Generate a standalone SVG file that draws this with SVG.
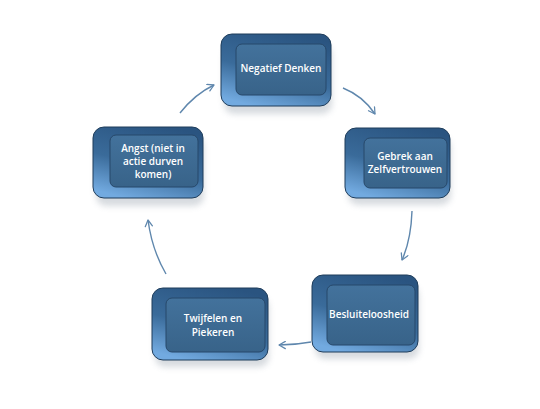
<svg xmlns="http://www.w3.org/2000/svg" width="540" height="409" viewBox="0 0 540 409">
<defs>
<linearGradient id="rim" x1="0.7" y1="0" x2="0.3" y2="1">
<stop offset="0" stop-color="#2a5480"/>
<stop offset="0.55" stop-color="#3a6b9a"/>
<stop offset="1" stop-color="#72aae0"/>
</linearGradient>
<linearGradient id="face" x1="0" y1="0" x2="0" y2="1">
<stop offset="0" stop-color="#43729c"/>
<stop offset="1" stop-color="#386389"/>
</linearGradient>
<filter id="blur" x="-20%" y="-20%" width="140%" height="160%">
<feGaussianBlur stdDeviation="3"/>
</filter>
<marker id="head" viewBox="0 0 10 10" refX="8" refY="5" markerWidth="9" markerHeight="9" orient="auto" markerUnits="userSpaceOnUse">
<path d="M1,1 L8,5 L1,9" fill="none" stroke="#5f87ad" stroke-width="1.4" stroke-linecap="round" stroke-linejoin="round"/>
</marker>
</defs>
<style>
.shadow{fill:#7a8896;opacity:0.3;filter:url(#blur)}
.rim{fill:url(#rim);stroke:#1f3d5b;stroke-width:1}
.face{fill:url(#face);stroke:#27486a;stroke-width:1}
.lbl{font-family:"Open Sans","Liberation Sans",sans-serif;font-size:10px;font-weight:600;fill:#ffffff;text-anchor:middle}
.conn{fill:none;stroke:#5f87ad;stroke-width:1.4;marker-end:url(#head)}
</style>
<rect width="540" height="409" fill="#ffffff"/>

<g id="connectors">
<path class="conn" d="M343,88 Q363,96 375,114"/>
<path class="conn" d="M412,211 Q411,240 402,260"/>
<path class="conn" d="M311,342 Q295,345 279,345"/>
<path class="conn" d="M166,274 Q152,250 148,220"/>
<path class="conn" d="M180,113 Q195,94 214,85"/>
</g>

<g id="node-negatief">
<rect class="shadow" x="224" y="44" width="108" height="70" rx="10"/>
<rect class="rim" x="221" y="34" width="110" height="72" rx="11"/>
<rect class="face" x="236" y="44" width="90" height="51" rx="6"/>
<text class="lbl" x="281" y="72">Negatief Denken</text>
</g>

<g id="node-gebrek">
<rect class="shadow" x="348" y="137" width="103" height="68" rx="10"/>
<rect class="rim" x="345" y="128" width="105" height="70" rx="11"/>
<rect class="face" x="364" y="138" width="83" height="50" rx="6"/>
<text class="lbl" x="405" y="160">Gebrek aan</text>
<text class="lbl" x="405" y="173">Zelfvertrouwen</text>
</g>

<g id="node-angst">
<rect class="shadow" x="96" y="136" width="108" height="70" rx="10"/>
<rect class="rim" x="93" y="127" width="110" height="71" rx="11"/>
<rect class="face" x="110" y="135" width="88" height="52" rx="6"/>
<text class="lbl" x="153" y="152">Angst (niet in</text>
<text class="lbl" x="153" y="165">actie durven</text>
<text class="lbl" x="153" y="178">komen)</text>
</g>

<g id="node-besluit">
<rect class="shadow" x="315" y="285" width="104" height="74" rx="10"/>
<rect class="rim" x="312" y="275" width="106" height="77" rx="11"/>
<rect class="face" x="327" y="285" width="88" height="60" rx="6"/>
<text class="lbl" x="369" y="318">Besluiteloosheid</text>
</g>

<g id="node-twijfel">
<rect class="shadow" x="155" y="297" width="114" height="70" rx="10"/>
<rect class="rim" x="152" y="288" width="116" height="72" rx="11"/>
<rect class="face" x="166" y="298" width="99" height="54" rx="6"/>
<text class="lbl" x="213" y="322">Twijfelen en</text>
<text class="lbl" x="213" y="336">Piekeren</text>
</g>
</svg>
